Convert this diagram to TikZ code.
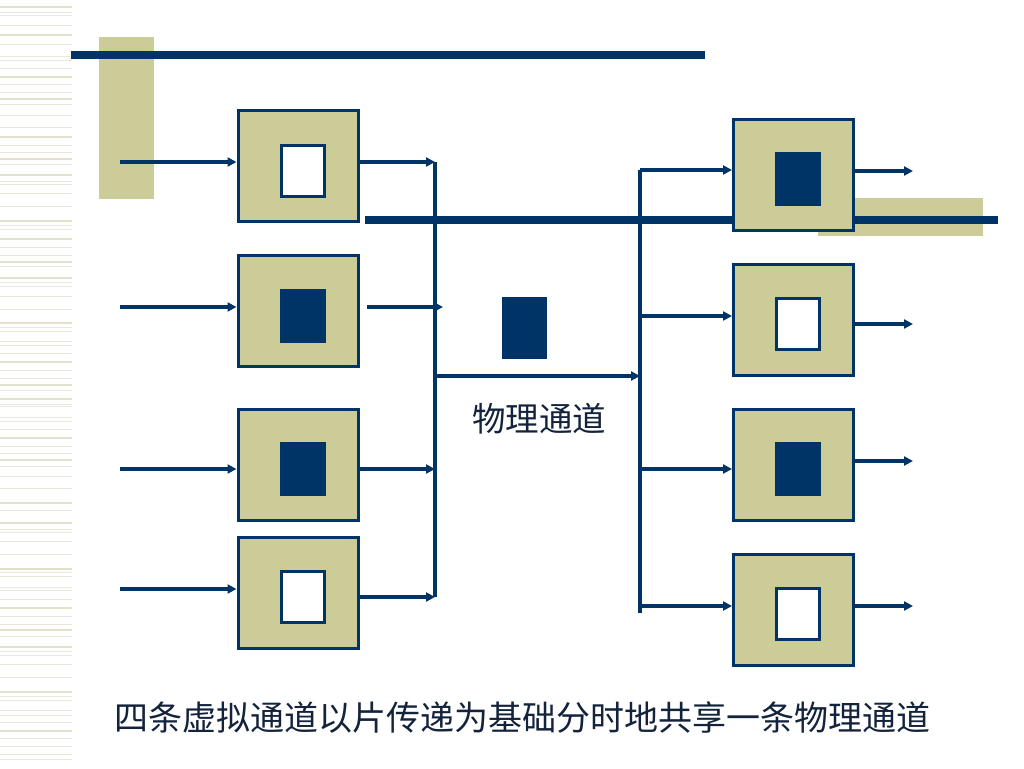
\documentclass[tikz,border=0pt]{standalone}
\usepackage{fontspec}
\newfontfamily\cjk{Noto Sans CJK SC}
\usetikzlibrary{arrows.meta}
\definecolor{navy}{RGB}{0,51,102}
\definecolor{tan}{RGB}{204,204,153}
\definecolor{stripeA}{RGB}{226,226,204}
\definecolor{stripeB}{RGB}{232,232,222}
\definecolor{txt}{RGB}{20,35,60}
\tikzset{
  vc/.style={rectangle, fill=tan, draw=navy, line width=3pt, minimum width=120pt, minimum height=111pt, inner sep=0pt},
  fullpkt/.style={rectangle, fill=navy, minimum width=46pt, minimum height=54pt, inner sep=0pt},
  emptypkt/.style={rectangle, fill=white, draw=navy, line width=3pt, minimum width=43pt, minimum height=51pt, inner sep=0pt},
  arr/.style={draw=navy, line width=3.5pt, -{Triangle[length=9pt,width=9pt]}},
  wire/.style={draw=navy, line width=3.5pt},
  bar/.style={draw=navy, line width=8pt},
  lbl/.style={text=txt, inner sep=0pt}
}
\begin{document}
\begin{tikzpicture}[x=1pt,y=-1pt]
\useasboundingbox (0,0) rectangle (1024,768);
\fill[white] (0,0) rectangle (1024,768);
% left stripes
\foreach \yy/\ww in {6.7/2.5,12.7/1.2,15.7/1.2,25.3/1.2,35.3/2.5,45/1.2,56.7/1.2,60/1.2,68.7/1.2,76.7/2.5,84/1.2,92.3/1.2,99/2.5,104/1.2,115/1.2,127.7/1.2,136.7/2.5,145/1.2,152.7/1.2,159.3/2.5,164.3/1.2,175.3/2.5,181/1.2,184/1.2,193.3/1.2,206/1.2,220.7/2.5,225/1.2,229.3/1.2,239.3/2.5,247.3/1.2,255/1.2,261.7/2.5,266.7/1.2,278.3/2.5,282.7/1.2,286/1.2,296/1.2,309/1.2,323.3/2.5,327.3/1.2,331/1.2,341.7/1.2,345/1.2,353.3/1.2,362.3/2.5,370/1.2,378.3/1.2,385/2.5,390/1.2,399.3/2.5,404/1.2,406.7/1.2,417.3/1.2,421.7/1.2,429/1.2,437.7/2.5,446/1.2,453.3/1.2,460/2.5,466/1.2,476/1.2,488.7/1.2,503.3/2.5,510.7/1.2,523.3/2.5,529.3/1.2,532/1.2,541.7/1.2,554.3/1.2,569/2.5,572.7/1.2,576.7/1.2,587.3/1.2,590.7/1.2,599.3/1.2,607.7/2.5,616/1.2,624/1.2,630/2.5,636/1.2,646.7/2.5,651.7/1.2,655/1.2,664.7/1.2,677.7/1.2,692.3/2.5,696.7/1.2,700/1.2,710/1.2,715/1.2,722.3/1.2,730.7/2.5,738.3/1.2,746.7/1.2,754/1.2,759/1.2}
  {\ifdim\ww pt>2pt
     \draw[line width=2.2pt, draw=stripeA] (0,\yy) -- (72,\yy);
   \else
     \draw[line width=1pt, draw=stripeB] (0,\yy) -- (72,\yy);
   \fi}
% decorations
\fill[tan] (99,37) rectangle (154,199);
\fill[tan] (818,198) rectangle (983,236);
\draw[bar] (71,55) -- (705,55);
\draw[bar] (365,219.5) -- (998,219.5);
% bus coordinates
\coordinate (bl1) at (435,162);
\coordinate (bl4) at (435,597);
\coordinate (br1) at (640,170);
\coordinate (br4) at (640,613);
\coordinate (m1) at (435,376);
\coordinate (m2) at (640,376);
% inputs
\coordinate (i1) at (120,162);
\coordinate (i2) at (120,307);
\coordinate (i3) at (120,469);
\coordinate (i4) at (120,589);
% right outputs
\coordinate (o1) at (913,171);
\coordinate (o2) at (913,324);
\coordinate (o3) at (913,461);
\coordinate (o4) at (913,606);
% boxes
\node[vc] (L1) at (298,165.5) {};
\node[vc] (L2) at (298,311) {};
\node[vc] (L3) at (298,465) {};
\node[vc] (L4) at (298,592.5) {};
\node[vc] (R1) at (793.5,175) {};
\node[vc] (R2) at (793.5,320) {};
\node[vc] (R3) at (793.5,465) {};
\node[vc] (R4) at (793.5,610) {};
\node[emptypkt] (L1i) at (303,170.5) {};
\node[fullpkt] (L2i) at (303,316) {};
\node[fullpkt] (L3i) at (303,469) {};
\node[emptypkt] (L4i) at (303,597) {};
\node[fullpkt] (R1i) at (798,179) {};
\node[emptypkt] (R2i) at (798,324) {};
\node[fullpkt] (R3i) at (798,469) {};
\node[emptypkt] (R4i) at (798,614) {};
\node[fullpkt, minimum width=45pt, minimum height=62pt] (pk) at (524.5,328) {};
% left inputs
\draw[arr] (i1) -- (i1 -| L1.west);
\draw[arr] (i2) -- (i2 -| L2.west);
\draw[arr] (i3) -- (i3 -| L3.west);
\draw[arr] (i4) -- (i4 -| L4.west);
% left outputs to bus
\draw[arr] (L1.east |- bl1) -- (bl1);
\draw[arr] (367,307) -- (443,307);
\draw[arr] (L3.east |- 435,469) -- (435,469);
\draw[arr] (L4.east |- bl4) -- (bl4);
\draw[wire] (bl1) -- (bl4);
% physical channel
\draw[arr] (m1) -- (m2);
\draw[wire] (br1) -- (br4);
% right bus to boxes
\draw[arr] (br1) -- (br1 -| R1.west);
\draw[arr] (640,316) -- (640,316 -| R2.west);
\draw[arr] (640,469) -- (640,469 -| R3.west);
\draw[arr] (640,606) -- (640,606 -| R4.west);
% right outputs
\draw[arr] (R1.east |- o1) -- (o1);
\draw[arr] (R2.east |- o2) -- (o2);
\draw[arr] (R3.east |- o3) -- (o3);
\draw[arr] (R4.east |- o4) -- (o4);
% labels
\node[lbl, font=\cjk\fontsize{33.5}{36}\selectfont] (phy) at (539,419) {物理通道};
\node[lbl, font=\cjk\fontsize{34}{38}\selectfont] (cap) at (522,718) {四条虚拟通道以片传递为基础分时地共享一条物理通道};
\end{tikzpicture}
\end{document}
